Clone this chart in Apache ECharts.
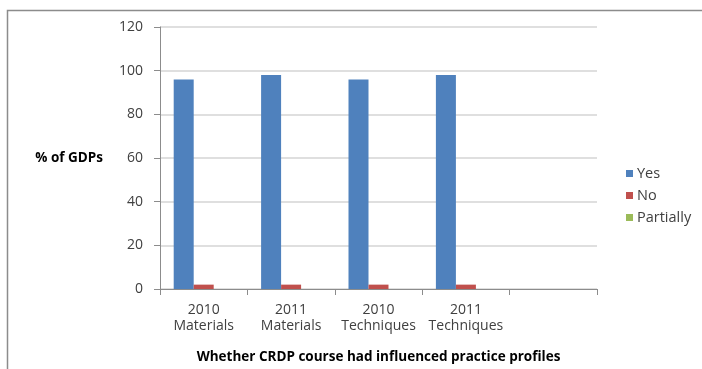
<!DOCTYPE html>
<html>
<head>
<meta charset="utf-8">
<script src="https://cdn.jsdelivr.net/npm/echarts@6/dist/echarts.min.js"></script>
<style>
  html, body { margin: 0; padding: 0; background: #fff; }
  #chart { width: 702px; height: 369px; }
</style>
</head>
<body>
<div id="chart"></div>
<script>
// Categories along the x axis (last slot left empty)
const categories = ['2010\nMaterials', '2011\nMaterials', '2010\nTechniques', '2011\nTechniques', ''];
// Share of GDPs per answer (%)
const yesValues = [96, 98, 96, 98, null];
const noValues = [2, 2, 2, 2, null];
const partiallyValues = [0, 0, 0, 0, null];
// Y axis range
const yMin = 0;
const yMax = 120;
const yStep = 20;

const font = '"Open Sans", "Liberation Sans", sans-serif';
const chart = echarts.init(document.getElementById('chart'), null, { renderer: 'canvas' });

chart.setOption({
  animation: false,
  backgroundColor: '#ffffff',
  graphic: [{
    type: 'rect',
    shape: { x: 7.5, y: 10.5, width: 900, height: 500 },
    style: { fill: 'none', stroke: '#8c8c8c', lineWidth: 1.5 },
    silent: true
  }],
  grid: { left: 160, right: 105, top: 27, bottom: 76 },
  legend: {
    orient: 'vertical',
    left: 621,
    top: 161,
    itemWidth: 7,
    itemHeight: 7,
    itemGap: 7,
    icon: 'rect',
    textStyle: { fontFamily: font, fontSize: 14.5, color: '#404040', padding: [0, 0, 0, -1] },
    data: ['Yes', 'No', 'Partially']
  },
  xAxis: {
    type: 'category',
    data: categories,
    name: 'Whether CRDP course had influenced practice profiles',
    nameLocation: 'middle',
    nameGap: 61,
    nameTextStyle: { fontFamily: font, fontSize: 13.5, fontWeight: 'bold', color: '#000' },
    axisLine: { lineStyle: { color: '#8c8c8c', width: 1 } },
    axisTick: { show: true, alignWithLabel: false, length: 6, lineStyle: { color: '#8c8c8c' } },
    axisLabel: { fontFamily: font, fontSize: 14, color: '#404040', margin: 13, lineHeight: 16, interval: 0 }
  },
  yAxis: {
    type: 'value',
    min: yMin,
    max: yMax,
    interval: yStep,
    name: '% of GDPs',
    nameLocation: 'middle',
    nameRotate: 0,
    nameGap: 57,
    nameTextStyle: { fontFamily: font, fontSize: 13.5, fontWeight: 'bold', color: '#000', align: 'right' },
    axisLine: { show: true, lineStyle: { color: '#8c8c8c', width: 1 } },
    axisTick: { show: true, length: 6, lineStyle: { color: '#8c8c8c' } },
    axisLabel: { fontFamily: font, fontSize: 14, color: '#404040', margin: 17 },
    splitLine: { lineStyle: { color: '#d4d4d4', width: 1.5 } }
  },
  series: [
    { name: 'Yes', type: 'bar', data: yesValues, barWidth: 20, barGap: '0%', itemStyle: { color: '#4f81bd' } },
    { name: 'No', type: 'bar', data: noValues, barWidth: 20, barGap: '0%', itemStyle: { color: '#c0504d' } },
    { name: 'Partially', type: 'bar', data: partiallyValues, barWidth: 20, barGap: '0%', itemStyle: { color: '#9bbb59' } }
  ]
});
</script>
</body>
</html>
